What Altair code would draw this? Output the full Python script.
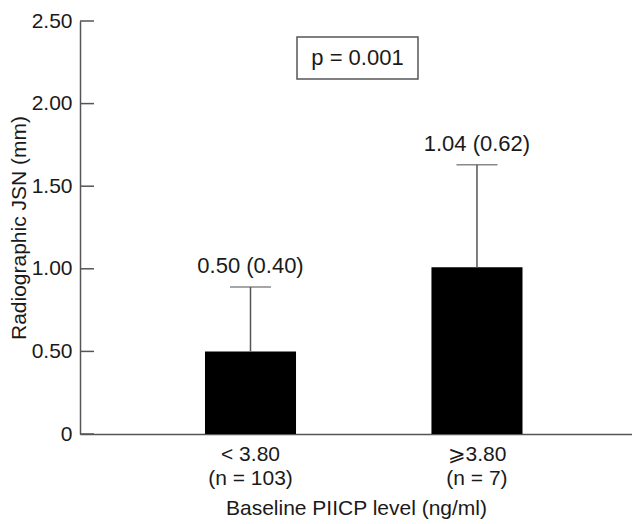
import altair as alt
import pandas as pd

groups = ["< 3.80\n(n = 103)", "⩾3.80\n(n = 7)"]
means = [0.50, 1.01]
upper = [0.89, 1.63]
bar_labels = ["0.50 (0.40)", "1.04 (0.62)"]
y_ticks = [0, 0.5, 1.0, 1.5, 2.0, 2.5]
p_text = ["p = 0.001"]

FONT = "Liberation Sans"
GREY = "#555555"
INK = "#1a1a1a"

df = pd.DataFrame({"group": groups, "mean": means, "upper": upper, "label": bar_labels})
ticks_df = pd.DataFrame({"t": y_ticks})
p_df = pd.DataFrame({"p": p_text})

x_scale = alt.Scale(domain=groups, paddingInner=0.598, paddingOuter=0.5177, align=0.533)
y_scale = alt.Scale(domain=[0, 2.5], nice=False, zero=True)

x_axis = alt.Axis(
    title="Baseline PIICP level (ng/ml)", labelAngle=0,
    labelExpr="split(datum.label, '\\n')", labelLineHeight=24,
    ticks=False, tickSize=0, labelPadding=9, labelFontSize=21,
    labelColor=INK, labelFont=FONT, titleFont=FONT, titleFontSize=21,
    titleFontWeight="normal", titleColor=INK, titlePadding=9,
    domainColor=GREY, domainWidth=1.5, grid=False,
)
y_axis = alt.Axis(
    title="Radiographic JSN (mm)", values=y_ticks,
    labelExpr="datum.value == 0 ? '0' : format(datum.value, '.2f')",
    ticks=False, tickSize=0, labelPadding=8, labelFontSize=21,
    labelColor=INK, labelFont=FONT, titleFont=FONT, titleFontSize=21,
    titleFontWeight="normal", titleColor=INK, titlePadding=2,
    domainColor=GREY, domainWidth=1.5, grid=False,
)

x_enc = alt.X("group:N", scale=x_scale, sort=groups, axis=x_axis)
base = alt.Chart(df)

bars = base.mark_bar(color="black").encode(
    x=x_enc, y=alt.Y("mean:Q", scale=y_scale, axis=y_axis)
)
err = base.mark_rule(color=GREY, strokeWidth=1.5).encode(
    x=x_enc, y=alt.Y("mean:Q", scale=y_scale, axis=y_axis), y2="upper:Q"
)
cap = base.mark_tick(color=GREY, size=41, thickness=1.5, orient="horizontal").encode(
    x=x_enc, y=alt.Y("upper:Q", scale=y_scale, axis=y_axis)
)
txt = base.mark_text(font=FONT, fontSize=22, color=INK, baseline="middle", dy=-21).encode(
    x=x_enc, y=alt.Y("upper:Q", scale=y_scale, axis=y_axis), text="label:N"
)
yticks = alt.Chart(ticks_df).mark_rule(color=GREY, strokeWidth=1.5).encode(
    y=alt.Y("t:Q", scale=y_scale, axis=y_axis), x=alt.value(0), x2=alt.value(14)
)
pbox = alt.Chart(p_df).mark_rect(fill="white", stroke=GREY, strokeWidth=1.5).encode(
    x=alt.value(217), x2=alt.value(338), y=alt.value(16), y2=alt.value(58)
)
ptxt = alt.Chart(p_df).mark_text(font=FONT, fontSize=22, color=INK, baseline="middle").encode(
    x=alt.value(277.5), y=alt.value(37), text="p:N"
)

chart = alt.layer(bars, err, cap, txt, yticks, pbox, ptxt).properties(
    width=552, height=413,
    padding={"left": 72, "top": 13, "right": 0, "bottom": 90},
    autosize=alt.AutoSizeParams(type="none"),
    background="white",
).configure_view(stroke=None)

chart.save("out.html", embed_options={"renderer": "svg", "actions": False})
